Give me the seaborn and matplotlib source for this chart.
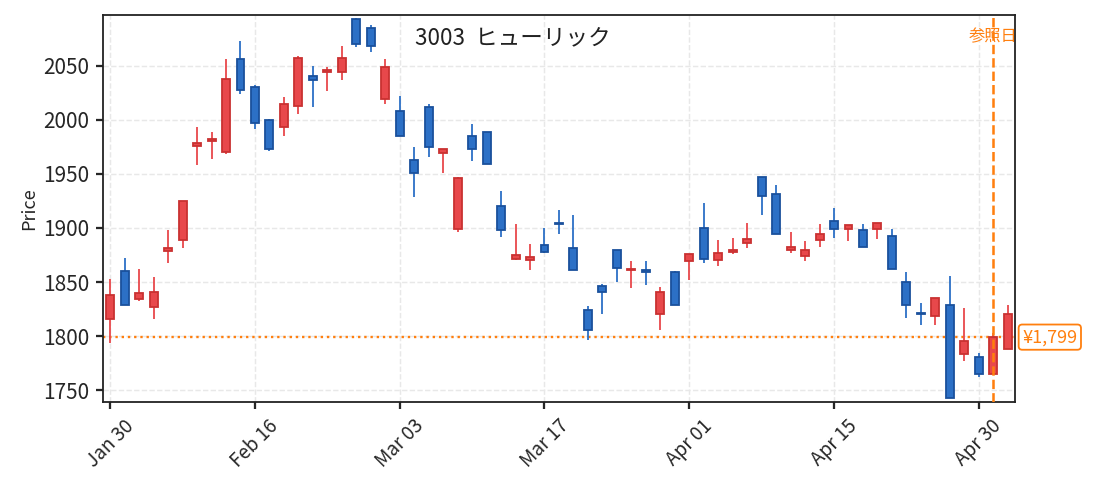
import matplotlib
matplotlib.use("Agg")
import matplotlib.pyplot as plt
import numpy as np
import pandas as pd
import seaborn as sns

# --- data --------------------------------------------------------------------
dates = [
    "2026-01-30", "2026-02-02", "2026-02-03", "2026-02-04", "2026-02-05", "2026-02-06",
    "2026-02-09", "2026-02-10", "2026-02-12", "2026-02-13", "2026-02-16", "2026-02-17",
    "2026-02-18", "2026-02-19", "2026-02-20", "2026-02-24", "2026-02-25", "2026-02-26",
    "2026-02-27", "2026-03-02", "2026-03-03", "2026-03-04", "2026-03-05", "2026-03-06",
    "2026-03-09", "2026-03-10", "2026-03-11", "2026-03-12", "2026-03-13", "2026-03-16",
    "2026-03-17", "2026-03-18", "2026-03-19", "2026-03-23", "2026-03-24", "2026-03-25",
    "2026-03-26", "2026-03-27", "2026-03-30", "2026-03-31", "2026-04-01", "2026-04-02",
    "2026-04-03", "2026-04-06", "2026-04-07", "2026-04-08", "2026-04-09", "2026-04-10",
    "2026-04-13", "2026-04-14", "2026-04-15", "2026-04-16", "2026-04-17", "2026-04-20",
    "2026-04-21", "2026-04-22", "2026-04-23", "2026-04-24", "2026-04-27", "2026-04-28",
    "2026-04-30", "2026-05-01", "2026-05-07",
]
open_ = [1816, 1860, 1834, 1827, 1879, 1889, 1976, 1980, 1970, 2056, 2030, 2000,
         1993, 2013, 2041, 2044, 2044, 2093, 2085, 2019, 2008, 1963, 2012, 1969,
         1899, 1985, 1989, 1920, 1871, 1870, 1884, 1905, 1881, 1824, 1846, 1880,
         1861, 1861, 1820, 1859, 1869, 1900, 1870, 1878, 1886, 1947, 1931, 1880,
         1874, 1889, 1906, 1899, 1898, 1899, 1893, 1850, 1821, 1819, 1829, 1783,
         1781, 1765, 1788]
high = [1853, 1872, 1862, 1855, 1898, 1925, 1993, 1989, 2056, 2073, 2032, 2001,
        2021, 2059, 2050, 2049, 2068, 2094, 2088, 2056, 2022, 1975, 2015, 1973,
        1947, 1996, 1989, 1934, 1904, 1885, 1900, 1917, 1912, 1828, 1848, 1880,
        1869, 1869, 1845, 1860, 1876, 1923, 1889, 1891, 1905, 1947, 1940, 1896,
        1888, 1904, 1918, 1903, 1904, 1905, 1899, 1859, 1831, 1835, 1856, 1826,
        1784, 1803, 1829]
low = [1794, 1829, 1832, 1816, 1868, 1881, 1958, 1964, 1968, 2024, 1992, 1971,
       1985, 2005, 2012, 2027, 2037, 2067, 2063, 2015, 1985, 1929, 1966, 1951,
       1896, 1962, 1959, 1892, 1870, 1861, 1877, 1894, 1861, 1796, 1820, 1850,
       1844, 1847, 1806, 1829, 1852, 1868, 1865, 1876, 1881, 1912, 1894, 1877,
       1869, 1882, 1891, 1888, 1882, 1890, 1862, 1817, 1810, 1810, 1743, 1777,
       1762, 1765, 1788]
close = [1838, 1829, 1840, 1841, 1881, 1925, 1979, 1982, 2038, 2028, 1997, 1973,
         2015, 2057, 2037, 2046, 2057, 2070, 2068, 2049, 1985, 1951, 1975, 1973,
         1946, 1973, 1959, 1898, 1875, 1873, 1878, 1904, 1861, 1806, 1841, 1863,
         1862, 1859, 1841, 1829, 1876, 1871, 1877, 1880, 1890, 1930, 1894, 1882,
         1880, 1894, 1899, 1903, 1882, 1905, 1862, 1829, 1820, 1835, 1743, 1795,
         1765, 1799, 1820]

ticker = "3003"
name = "ヒューリック"
ref_date = "2026-05-01"

UP_FILL, UP_EDGE = "#e8484b", "#c93131"
DOWN_FILL, DOWN_EDGE = "#2c70c6", "#1a509c"
REF_COLOR = "#ff7f0e"

df = pd.DataFrame({"date": pd.to_datetime(dates), "open": open_, "high": high,
                   "low": low, "close": close})
df["pos"] = np.arange(len(df))
df["up"] = df["close"] >= df["open"]

# --- figure -------------------------------------------------------------------
sns.set_theme(style="ticks")
plt.rcParams["font.family"] = ["Noto Sans CJK JP", "DejaVu Sans"]

dpi = 130
fig = plt.figure(figsize=(1093 / dpi, 490 / dpi), dpi=dpi)
ax = fig.add_axes([0.0942, 0.1796, 0.8344, 0.7898])

ax.grid(True, linestyle="--", color="#e8e8e8", linewidth=0.8, zorder=0)
ax.set_axisbelow(True)

for up, fill, edge in [(True, UP_FILL, UP_EDGE), (False, DOWN_FILL, DOWN_EDGE)]:
    part = df[df["up"] == up]
    ax.vlines(part["pos"], part["low"], part["high"], color=fill, linewidth=1.0, zorder=2)
    body = (part["close"] - part["open"]).abs().clip(lower=0.8)
    bottom = part[["open", "close"]].min(axis=1)
    ax.bar(part["pos"], body, bottom=bottom, width=0.55, color=fill,
           edgecolor=edge, linewidth=1.0, zorder=3)

ref_pos = int(df.index[df["date"] == pd.Timestamp(ref_date)][0])
ref_close = df.loc[ref_pos, "close"]

ax.axvline(ref_pos, color=REF_COLOR, linestyle="--", linewidth=1.4, zorder=4)
ax.axhline(ref_close, color=REF_COLOR, linestyle=":", linewidth=1.3, zorder=1)
ax.text(ref_pos, 0.965, "参照日", transform=ax.get_xaxis_transform(),
        ha="center", va="top", fontsize=9, color=REF_COLOR, zorder=3)
ax.text(1.008, ref_close, f"¥{ref_close:,.0f}", transform=ax.get_yaxis_transform(),
        ha="left", va="center", fontsize=10, color=REF_COLOR,
        bbox=dict(boxstyle="round,pad=0.2", facecolor="white", edgecolor=REF_COLOR,
                  linewidth=1.0), clip_on=False)

ax.text(0.45, 0.94, f"{ticker}  {name}", transform=ax.transAxes,
        ha="center", va="center", fontsize=12.5, color="#222222")

tick_pos = df["pos"][::10]
ax.set_xticks(tick_pos)
ax.set_xticklabels(df["date"][::10].dt.strftime("%b %d"))
ax.tick_params(axis="x", rotation=45, labelsize=10.5, length=4)
ax.tick_params(axis="y", labelsize=11.5, length=4)
ax.set_yticks(np.arange(1750, 2051, 50))
ax.set_xlim(-0.5, len(df) - 0.5)
ax.set_ylim(1739, 2097)
ax.set_xlabel("")
ax.set_ylabel("Price", fontsize=10, labelpad=3)
for s in ax.spines.values():
    s.set_color("#222222")
    s.set_linewidth(1.0)

fig.savefig("out.png", dpi=dpi)
